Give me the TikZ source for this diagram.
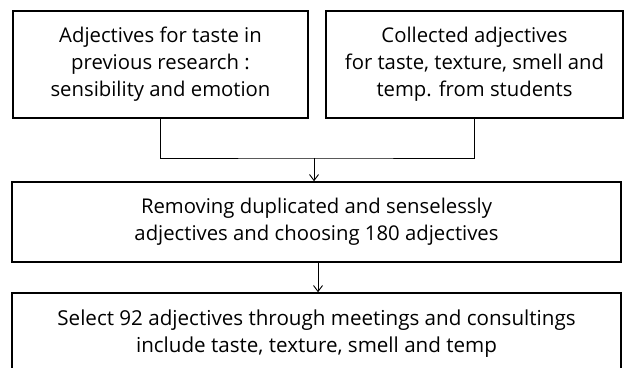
\documentclass[tikz,border=0pt]{standalone}
\usepackage{fontspec}
\setmainfont{Open Sans}
\usetikzlibrary{arrows.meta}
\begin{document}
\begin{tikzpicture}[x=1pt,y=-1pt,
  box/.style={draw, line width=1.5pt, align=center, inner sep=0pt, font=\fontsize{20.3}{27}\selectfont},
  conn/.style={line width=0.9pt},
  arr/.style={conn, -{Straight Barb[length=6pt,width=9pt]}}]
\useasboundingbox (0,0) rectangle (624,367);
\node[box, minimum width=295pt, minimum height=107pt] (b1) at (160.5,64.5)
  {Adjectives for taste in\\previous research :\\sensibility and emotion};
\node[box, minimum width=297pt, minimum height=107pt] (b2) at (474.5,64.5)
  {Collected adjectives\\for taste, texture, smell and\\temp. from students};
\node[box, minimum width=609pt, minimum height=80pt] (b3) at (316.5,222)
  {Removing duplicated and senselessly\\adjectives and choosing 180 adjectives};
\node[box, minimum width=609pt, minimum height=100pt] (b4) at (316.5,343) {};
\node[align=center, font=\fontsize{20.6}{27}\selectfont] (t4) at (316.5,334)
  {Select 92 adjectives through meetings and consultings\\include taste, texture, smell and temp};
\coordinate (j) at (314,158);
\draw[conn] (b1.south) |- (j) -| (b2.south);
\draw[arr] (j) -- (j |- b3.north);
\draw[arr] ([xshift=1.5pt]b3.south) -- ([xshift=1.5pt]b3.south |- b4.north);
\end{tikzpicture}
\end{document}
